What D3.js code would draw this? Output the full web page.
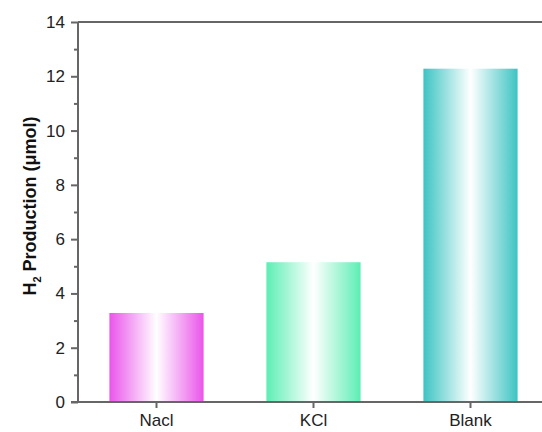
<!DOCTYPE html>
<html><head><meta charset="utf-8">
<script src="https://cdn.jsdelivr.net/npm/d3@7"></script>
<style>body{margin:0;background:#fff}</style>
</head><body>
<svg id="c" width="542" height="432"></svg>
<script>
const categories = ["Nacl", "KCl", "Blank"];
const values = [3.28, 5.15, 12.28];
const colors = ["#ea55ea", "#5deeb4", "#3dc4c3"];
const yTicks = [0, 2, 4, 6, 8, 10, 12, 14];

(function () {
const svg = d3.select("#c");
const mLeft = 78, mRight = 549, mTop = 22, mBottom = 402;

const x = d3.scaleBand().domain(categories).range([mLeft, mRight]).paddingInner(0.4).paddingOuter(0.2);
const y = d3.scaleLinear().domain([0, 14]).range([mBottom, mTop]);

const defs = svg.append("defs");
categories.forEach((c, i) => {
  const g = defs.append("linearGradient").attr("id", "g" + i).attr("x1", "0%").attr("x2", "100%").attr("y1", "0%").attr("y2", "0%");
  g.append("stop").attr("offset", "0%").attr("stop-color", colors[i]);
  g.append("stop").attr("offset", "50%").attr("stop-color", "#ffffff");
  g.append("stop").attr("offset", "100%").attr("stop-color", colors[i]);
});

svg.selectAll("rect.bar").data(categories).enter().append("rect")
  .attr("class", "bar")
  .attr("x", d => x(d))
  .attr("width", x.bandwidth())
  .attr("y", (d, i) => y(values[i]))
  .attr("height", (d, i) => y(0) - y(values[i]))
  .attr("fill", (d, i) => `url(#g${i})`);

const axisColor = "#666";
svg.append("line").attr("x1", mLeft).attr("x2", mRight).attr("y1", mTop).attr("y2", mTop).attr("stroke", axisColor).attr("stroke-width", 2);

const yAxis = svg.append("g").attr("transform", `translate(${mLeft},0)`)
  .call(d3.axisLeft(y).tickValues(yTicks).tickSize(7).tickPadding(6).tickFormat(d3.format("d")));
const yMinor = svg.append("g").attr("transform", `translate(${mLeft},0)`)
  .call(d3.axisLeft(y).tickValues(d3.range(1, 14, 2)).tickSize(4).tickFormat(""));
yMinor.select(".domain").remove();

const xAxis = svg.append("g").attr("transform", `translate(0,${mBottom})`)
  .call(d3.axisBottom(x).tickSize(6).tickPadding(6).tickSizeOuter(0));

[yAxis, yMinor, xAxis].forEach(a => {
  a.selectAll("path,line").attr("stroke", axisColor).attr("stroke-width", 2);
  a.selectAll("text").attr("fill", "#222").style("font-family", "Liberation Sans, Arial, sans-serif").style("font-size", "17px");
});
yAxis.select(".domain").attr("d", `M0,${mTop}V${mBottom}`);
xAxis.select(".domain").attr("d", `M${mLeft - 7},0H${mRight}`);

const lab = svg.append("text").attr("transform", `translate(36,206) rotate(-90)`)
  .attr("text-anchor", "middle")
  .style("font-family", "Liberation Sans, Arial, sans-serif").style("font-size", "18px").style("font-weight", "bold").attr("fill", "#111");
lab.append("tspan").text("H");
lab.append("tspan").text("2").attr("dy", 5).style("font-size", "11px");
lab.append("tspan").text(" Production (μmol)").attr("dy", -5);
})();
</script>
</body></html>
